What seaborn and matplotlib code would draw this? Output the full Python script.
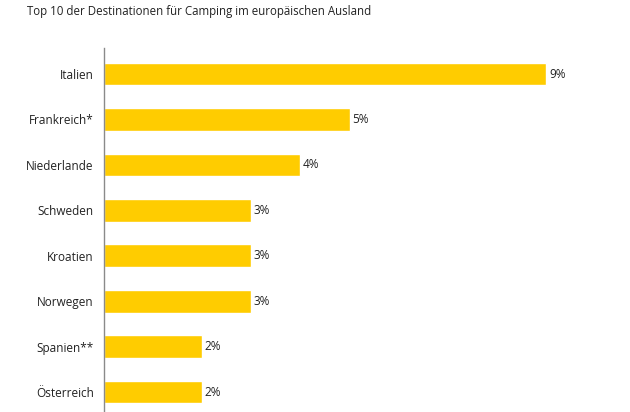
import matplotlib
matplotlib.use("Agg")
import matplotlib.pyplot as plt
import pandas as pd
import seaborn as sns

countries = ["Italien", "Frankreich*", "Niederlande", "Schweden", "Kroatien",
             "Norwegen", "Spanien**", "Österreich"]
shares = [9, 5, 4, 3, 3, 3, 2, 2]
title = "Top 10 der Destinationen für Camping im europäischen Ausland"

df = pd.DataFrame({"land": countries, "anteil": shares})

sns.set_theme(style="white")
plt.rcParams["font.family"] = ["Open Sans", "DejaVu Sans"]

fig = plt.figure(figsize=(6.3, 4.12), dpi=100)
ax = fig.add_axes([103.5 / 630, 0.0, 526.5 / 630, 364 / 412])

sns.barplot(data=df, x="anteil", y="land", color="#FFCC00", saturation=1,
            width=0.5, ax=ax)

ax.set_xlim(0, 526.5 / 49.2)
ax.set_ylim(7.44, -0.573)
ax.set_xlabel("")
ax.set_ylabel("")
ax.set_xticks([])
for side in ["top", "right", "bottom"]:
    ax.spines[side].set_visible(False)
ax.spines["left"].set_color("#8a8a8a")
ax.spines["left"].set_linewidth(1)
ax.tick_params(axis="y", length=0, pad=7, labelsize=8.5, labelcolor="#222222")

for cont in ax.containers:
    ax.bar_label(cont, labels=[f"{v}%" for v in shares], padding=2,
                 fontsize=8.5, color="#222222")

fig.text(27 / 630, 1 - 12 / 412, title, ha="left", va="center",
         fontsize=8.3, color="#222222")

fig.savefig("out.png", dpi=100)
